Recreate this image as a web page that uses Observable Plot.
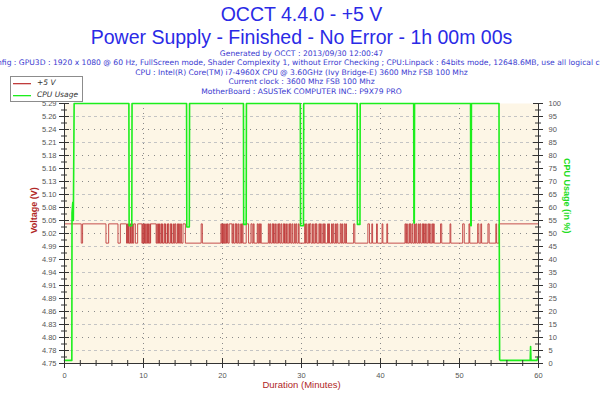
<!DOCTYPE html>
<html>
<head>
<meta charset="utf-8">
<script src="https://cdn.jsdelivr.net/npm/d3@7"></script>
<script src="https://cdn.jsdelivr.net/npm/@observablehq/plot@0.6"></script>
<style>
  html, body { margin: 0; padding: 0; background: #ffffff; }
  #wrap { position: relative; width: 600px; height: 400px; overflow: hidden; }
  #legend { position: absolute; left: 10px; top: 76px; width: 71px; height: 24px; border: 1px solid #8c8c8c; background: #fff;
            font-family: "DejaVu Sans", sans-serif; font-size: 7.5px; font-style: italic; color: #333; }
  #legend .row { position: absolute; left: 0; height: 12px; width: 71px; }
  #legend svg { position: absolute; left: 2px; top: 0px; }
  #legend .lb { position: absolute; left: 26px; top: 0px; line-height: 12px; }
</style>
</head>
<body>
<div id="wrap"></div>
<script>
// ---- Text ----
const title1 = "OCCT 4.4.0 - +5 V";
const title2 = "Power Supply - Finished - No Error - 1h 00m 00s";
const infoLines = [
  "Generated by OCCT : 2013/09/30 12:00:47",
  "Config : GPU3D : 1920 x 1080 @ 60 Hz, FullScreen mode, Shader Complexity 1, without Error Checking ; CPU:Linpack : 64bits mode, 12648.6MB, use all logical cores",
  "CPU : Intel(R) Core(TM) i7-4960X CPU @ 3.60GHz (Ivy Bridge-E) 3600 Mhz FSB 100 Mhz",
  "Current clock : 3600 Mhz FSB 100 Mhz",
  "MotherBoard : ASUSTeK COMPUTER INC.: P9X79 PRO"
];
const seriesNames = ["+5 V", "CPU Usage"];
const seriesColors = ["#c03c3c", "#1cee1c"];

// ---- Axes ----
const xTicks = [0, 10, 20, 30, 40, 50, 60];
const xMinorTicks = [2, 4, 6, 8, 12, 14, 16, 18, 22, 24, 26, 28, 32, 34, 36, 38, 42, 44, 46, 48, 52, 54, 56, 58];
const cpuTicks = [0, 5, 10, 15, 20, 25, 30, 35, 40, 45, 50, 55, 60, 65, 70, 75, 80, 85, 90, 95, 100];
const voltTickLabels = ["4.75", "4.78", "4.80", "4.83", "4.86", "4.89", "4.91", "4.94", "4.97", "4.99", "5.02",
                        "5.05", "5.08", "5.10", "5.13", "5.16", "5.18", "5.21", "5.24", "5.26", "5.29"];
const voltMin = 4.75, voltMax = 5.29;

// ---- CPU usage (%) ----
const cpuTime = [0, 0.93, 0.95, 1.05, 1.12, 1.22,
  8.15, 8.18, 8.52, 8.55,
  15.45, 15.48, 15.8, 15.83,
  22.65, 22.68, 23.0, 23.03,
  29.85, 29.88, 30.25, 30.28,
  37.05, 37.08, 37.4, 37.43,
  44.2, 44.23, 44.28, 44.31,
  51.4, 51.43, 51.48, 51.51,
  55.0, 55.03, 55.08, 55.15, 58.95, 59.0, 59.05, 59.8, 60];
const cpuValue = [1.2, 1.2, 58, 62, 55, 100,
  100, 53, 53, 100,
  100, 52.5, 52.5, 100,
  100, 53.5, 53.5, 100,
  100, 53, 53, 100,
  100, 53.5, 53.5, 100,
  100, 54, 54, 100,
  100, 53, 53, 100,
  100, 52, 1.5, 1.2, 1.2, 6.5, 1.2, 1.2, 2.8];

// ---- +5 V rail (V): two levels, and the intervals (minutes) spent at the low level ----
const voltHigh = 5.04, voltLow = 5.00;
const voltLowIntervals = [
  [2.12, 2.29], [5.25, 5.59], [6.77, 7.07],
  [7.85, 7.95], [8.0, 8.1], [8.15, 8.3], [8.35, 8.4], [8.45, 8.6], [8.65, 8.76],
  [8.97, 9.26],
  [9.8, 9.9], [9.95, 10.05], [10.1, 10.15], [10.2, 10.3], [10.35, 10.5], [10.55, 10.6], [10.65, 10.8], [10.85, 10.9],
  [11.6, 11.7], [11.75, 11.9], [11.95, 12.0], [12.05, 12.2], [12.3, 12.35], [12.4, 12.6], [12.7, 12.75], [12.8, 13.0],
  [13.05, 13.1], [13.2, 13.4], [13.5, 13.55], [13.6, 13.8], [13.9, 14.0], [14.1, 14.3], [14.4, 14.45], [14.55, 14.7], [14.8, 15.0],
  [15.3, 17.3], [17.45, 19.8],
  [19.9, 20.0], [20.05, 20.15], [20.2, 20.3], [20.35, 20.5], [20.55, 20.6], [20.7, 20.85],
  [21.2, 21.3], [21.4, 21.6], [21.7, 21.75], [21.85, 22.0], [22.1, 22.3], [22.4, 22.5],
  [22.6, 23.0],
  [23.3, 23.6], [23.75, 23.9], [24.0, 24.4], [24.5, 24.6], [24.7, 24.8],
  [24.9, 25.8],
  [25.9, 26.0], [26.1, 26.3], [26.4, 26.45], [26.55, 26.7], [26.8, 27.0], [27.1, 27.15], [27.25, 27.4], [27.5, 27.7],
  [27.8, 27.85], [27.95, 28.1], [28.2, 28.4], [28.5, 28.55], [28.65, 28.8], [28.9, 29.1], [29.2, 29.3], [29.4, 29.6], [29.7, 30.4],
  [30.5, 30.6], [30.7, 30.9], [31.0, 31.05], [31.2, 31.4], [31.5, 31.7], [31.8, 31.85], [31.95, 32.2], [32.3, 32.4],
  [32.5, 32.7], [32.8, 32.9], [33.0, 33.3], [33.4, 33.45], [33.55, 33.8], [33.9, 34.0], [34.1, 34.3], [34.4, 34.5],
  [34.6, 34.9], [35.0, 35.1], [35.2, 35.4], [35.5, 35.6],
  [35.7, 36.6], [36.75, 38.4],
  [38.6, 38.9], [39.0, 39.5], [39.6, 40.2],
  [40.3, 40.8], [40.9, 43.1],
  [43.2, 43.3], [43.4, 43.6], [43.7, 43.75], [43.85, 44.0], [44.1, 44.3], [44.4, 44.5], [44.6, 44.8], [44.9, 45.0],
  [45.1, 45.3], [45.4, 45.45], [45.55, 45.7], [45.8, 46.0], [46.1, 46.2], [46.3, 46.5], [46.6, 46.7],
  [46.8, 47.6], [47.75, 48.8], [48.9, 50.4],
  [50.6, 51.2], [51.3, 52.3], [52.45, 52.7], [52.8, 53.6], [53.75, 54.6], [54.7, 55.0]
];

// ---- Build tables ----
const toPct = v => (v - voltMin) / (voltMax - voltMin) * 100;
const voltSeries = [{t: 0, p: toPct(voltHigh)}];
for (const [a, b] of voltLowIntervals) {
  voltSeries.push({t: a, p: toPct(voltLow)});
  voltSeries.push({t: b, p: toPct(voltHigh)});
}
voltSeries.push({t: 60, p: toPct(voltHigh)});
const cpuSeries = cpuTime.map((t, i) => ({t, v: cpuValue[i]}));

const gridMajor = cpuTicks.filter(v => v > 0 && v < 100 && v % 10 === 0);
const gridMinor = cpuTicks.filter(v => v % 10 === 5);
const yMinor = cpuTicks.slice(0, -1).map(v => v + 2.5);

const W = 600, H = 400, mL = 64, mR = 62, mT = 103, mB = 37;
const fw = W - mL - mR, fh = H - mT - mB;
const axisCol = "#333333";
const titleBlue = "#2a2ae6";
const infoBlue = "#3a3ad0";
const infoOffsets = [-53, -43.5, -34, -24.5, -15];

const chart = Plot.plot({
  width: W, height: H,
  marginLeft: mL, marginRight: mR, marginTop: mT, marginBottom: mB,
  x: {domain: [0, 60]},
  y: {domain: [0, 100]},
  style: {background: "#ffffff", fontFamily: "'Liberation Sans', sans-serif", overflow: "hidden"},
  marks: [
    Plot.frame({fill: "#fdf6e6", stroke: null}),
    Plot.ruleY(gridMinor, {stroke: "#c4c4c4", strokeDasharray: "3,3"}),
    Plot.ruleY(gridMajor, {stroke: "#8a8a8a", strokeDasharray: "1,5"}),
    Plot.ruleX(xTicks.filter(d => d > 0 && d < 60), {stroke: "#8a8a8a", strokeDasharray: "1,4"}),
    Plot.line(voltSeries, {x: "t", y: "p", curve: "step-after", stroke: seriesColors[0], strokeWidth: 0.9}),
    Plot.line(cpuSeries, {x: "t", y: "v", stroke: seriesColors[1], strokeWidth: 1.6}),
    // axis lines
    Plot.ruleX([0, 60], {stroke: axisCol}),
    Plot.ruleY([0], {stroke: axisCol}),
    // left ticks
    Plot.ruleY(cpuTicks, {stroke: axisCol, insetLeft: -5, insetRight: fw - 5}),
    Plot.ruleY(yMinor, {stroke: axisCol, insetLeft: -3, insetRight: fw - 3}),
    // right ticks
    Plot.ruleY(cpuTicks, {stroke: axisCol, insetLeft: fw - 5, insetRight: -5}),
    Plot.ruleY(yMinor, {stroke: axisCol, insetLeft: fw - 3, insetRight: -3}),
    // bottom ticks
    Plot.ruleX(xTicks, {stroke: axisCol, insetTop: fh - 5, insetBottom: -5}),
    Plot.ruleX(xMinorTicks, {stroke: axisCol, insetTop: fh - 3, insetBottom: -3}),
    // tick labels
    Plot.axisY({anchor: "left", ticks: cpuTicks, tickSize: 0, tickPadding: 8, fontSize: 7.5, color: "#555",
                tickFormat: d => voltTickLabels[Math.round(d / 5)], label: null}),
    Plot.axisY({anchor: "right", ticks: cpuTicks, tickSize: 0, tickPadding: 10, fontSize: 7.5, color: "#555",
                tickFormat: d => String(d), label: null}),
    Plot.axisX({ticks: xTicks, tickSize: 0, tickPadding: 9, fontSize: 7.5, color: "#555", label: null}),
    // axis titles
    Plot.text(["Voltage (V)"], {frameAnchor: "left", dx: -30, rotate: -90, fill: "#b02626", fontWeight: "bold", fontSize: 9}),
    Plot.text(["CPU Usage (in %)"], {frameAnchor: "right", dx: 28, rotate: 90, fill: "#22dd22", fontWeight: "bold", fontSize: 9}),
    Plot.text(["Duration (Minutes)"], {frameAnchor: "bottom", dy: 24, fill: "#b02626", fontSize: 9.5}),
    // titles
    Plot.text([title1], {frameAnchor: "top", dy: -96, fill: titleBlue, fontSize: 19.5}),
    Plot.text([title2], {frameAnchor: "top", dy: -73, fill: titleBlue, fontSize: 19.5}),
    ...infoLines.map((line, i) => Plot.text([line], {frameAnchor: "top", dy: infoOffsets[i], fill: infoBlue,
                          fontSize: 7.6, fontFamily: "'DejaVu Sans', sans-serif"}))
  ]
});
const wrap = document.getElementById("wrap");
wrap.appendChild(chart);

// legend
const legend = document.createElement("div");
legend.id = "legend";
seriesNames.forEach((name, i) => {
  const row = document.createElement("div");
  row.className = "row";
  row.style.top = (i * 12) + "px";
  row.innerHTML = `<svg width="20" height="12"><rect x="0" y="6" width="18" height="1.3" fill="${seriesColors[i]}"/></svg>`;
  const lb = document.createElement("div");
  lb.className = "lb";
  lb.textContent = name;
  row.appendChild(lb);
  legend.appendChild(row);
});
wrap.appendChild(legend);
</script>
</body>
</html>
